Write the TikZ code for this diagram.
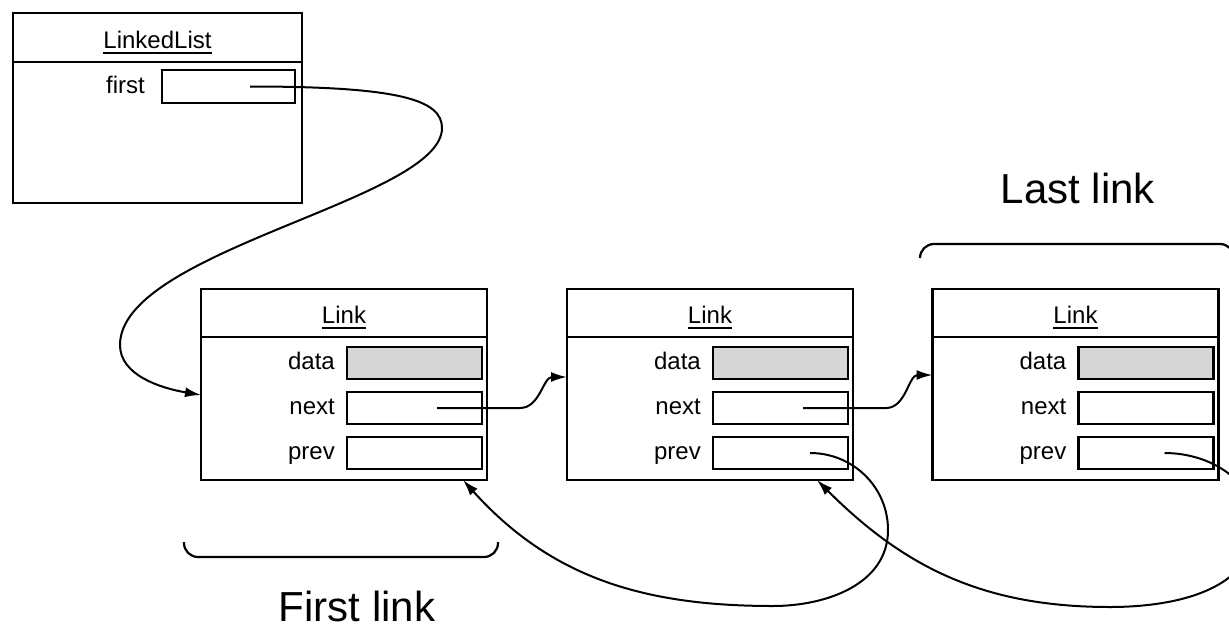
\documentclass[tikz,border=0pt]{standalone}
\usepackage{fontspec}
\usepackage{xcolor}
\usepackage{tikz}
\setmainfont{Liberation Sans}
\usetikzlibrary{positioning,arrows.meta}

\definecolor{datagray}{gray}{0.84}
\newcommand{\ulname}[1]{\setbox0\hbox{#1}\rlap{\rule[-5.5pt]{\wd0}{2pt}}\box0}

\begin{document}
\begin{tikzpicture}[x=1pt, y=1pt, every node/.style={font=\fontsize{24}{28}\selectfont},
  box/.style={draw, line width=2.4pt, inner sep=0pt, outer sep=0pt},
  head/.style={box, minimum width=286pt, minimum height=48pt, text height=21pt, text depth=0pt},
  body/.style={box, minimum width=286pt, minimum height=143pt},
  field/.style={box, minimum width=135pt, minimum height=32pt},
  lbl/.style={inner sep=2pt, text height=17pt, text depth=3.5pt},
  ptr/.style={line width=2pt, -{Latex[length=16pt,width=10pt]}},
  brace/.style={line width=2.2pt, rounded corners=14pt},
  big/.style={inner sep=0pt, font=\fontsize{42}{48}\selectfont}]
  \useasboundingbox (0,0) rectangle (1229,-630);
  \clip (0,0) rectangle (1229,-630);

  % the list object
  \node[head, minimum width=289pt, minimum height=49pt] (list) at (157.5,-37.5) {\ulname{LinkedList}};
  \node[body, minimum width=289pt, minimum height=141pt, below=0pt of list] (listbody) {};
  \node[field, minimum width=133pt, minimum height=33pt, anchor=north east] (first) at ([xshift=-7pt,yshift=-8pt]listbody.north east) {};
  \node[lbl, left=15pt of first] (firstlbl) {first};

  % the links
  \foreach \i/\x in {1/344,2/710,3/1075.5} {
    \node[head] (head\i) at (\x,-313) {\ulname{Link}};
    \node[body, below=0pt of head\i] (body\i) {};
    \node[field, fill=datagray, anchor=north east] (data\i) at ([xshift=-5pt,yshift=-10pt]body\i.north east) {};
    \node[field, below=13pt of data\i] (next\i) {};
    \node[field, below=13pt of next\i] (prev\i) {};
    \node[lbl, left=10pt of data\i] (datalbl\i) {data};
    \node[lbl, left=10pt of next\i] (nextlbl\i) {next};
    \node[lbl, left=10pt of prev\i] (prevlbl\i) {prev};
  }

  \coordinate (in1) at ([yshift=-58pt]body1.north west);
  \coordinate (in2) at ([yshift=-40pt]body2.north west);
  \coordinate (in3) at ([yshift=-38pt]body3.north west);
  \coordinate (back1) at ([xshift=-24pt]body1.south east);
  \coordinate (back2) at ([xshift=-36pt]body2.south east);

  % first
  \draw[ptr] ([xshift=-45pt]first.east) .. controls +(150,0) and (442,-100) .. (442,-128)
    .. controls (442,-200) and (120,-250) .. (120,-345)
    .. controls (120,-375) and (160,-388) .. (in1);

  % next
  \draw[ptr] ([xshift=-45pt]next1.east) -- +(83,0) .. controls +(20,0) and +(-24,0) .. (in2);
  \draw[ptr] ([xshift=-45pt]next2.east) -- +(83,0) .. controls +(20,0) and +(-24,0) .. (in3);

  % prev
  \draw[ptr] ([xshift=-38pt]prev2.east) to[out=0,in=90] (888,-530) to[out=-90,in=0] (773,-606)
    to[out=180,in=-48] (back1);
  \draw[ptr] ([xshift=-49pt]prev3.east) to[out=0,in=90] (1255,-525) to[out=-90,in=0] (1110,-607)
    to[out=180,in=-45] (back2);

  % braces
  \draw[brace] (184,-542) -- (184,-557) -- (498,-557) -- (498,-542);
  \draw[brace] (920,-258) -- (920,-244) -- (1234,-244) -- (1234,-258);
  \node[big] (firstlink) at (357,-606) {First link};
  \node[big] (lastlink) at (1078,-188) {Last link};
\end{tikzpicture}
\end{document}
